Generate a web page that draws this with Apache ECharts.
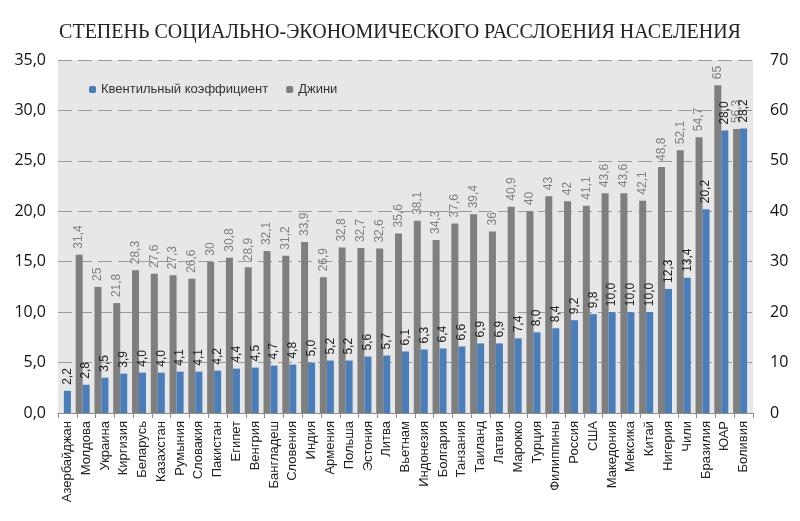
<!DOCTYPE html>
<html>
<head>
<meta charset="utf-8">
<script src="https://cdn.jsdelivr.net/npm/echarts@6/dist/echarts.min.js"></script>
<style>
html,body{margin:0;padding:0;background:#fff;}
#chart{width:800px;height:521px;}
</style>
</head>
<body>
<div id="chart"></div>
<script>
var titleText = 'СТЕПЕНЬ СОЦИАЛЬНО-ЭКОНОМИЧЕСКОГО РАССЛОЕНИЯ НАСЕЛЕНИЯ';
var categories = ['Азербайджан','Молдова','Украина','Киргизия','Беларусь','Казахстан','Румыния','Словакия','Пакистан','Египет','Венгрия','Бангладеш','Словения','Индия','Армения','Польша','Эстония','Литва','Вьетнам','Индонезия','Болгария','Танзания','Таиланд','Латвия','Марокко','Турция','Филиппины','Россия','США','Македония','Мексика','Китай','Нигерия','Чили','Бразилия','ЮАР','Боливия'];
var quintile = [2.2,2.8,3.5,3.9,4.0,4.0,4.1,4.1,4.2,4.4,4.5,4.7,4.8,5.0,5.2,5.2,5.6,5.7,6.1,6.3,6.4,6.6,6.9,6.9,7.4,8.0,8.4,9.2,9.8,10.0,10.0,10.0,12.3,13.4,20.2,28.0,28.2];
var gini = [null,31.4,25,21.8,28.3,27.6,27.3,26.6,30,30.8,28.9,32.1,31.2,33.9,26.9,32.8,32.7,32.6,35.6,38.1,34.3,37.6,39.4,36,40.9,40,43,42,41.1,43.6,43.6,42.1,48.8,52.1,54.7,65,56.3];
var leftTicks = {min:0, max:35, interval:5};
var rightTicks = {min:0, max:70, interval:10};
var seriesNames = ['Квентильный коэффициент','Джини'];

var chart = echarts.init(document.getElementById('chart'), null, {renderer:'canvas'});
var labelFont = 'Liberation Sans, Arial, sans-serif';
var option = {
  animation:false,
  title:{
    text:titleText, left:'center', top:18,
    textStyle:{fontFamily:'Liberation Serif, serif', fontSize:20, fontWeight:'normal', color:'#222'}
  },
  legend:{
    data:seriesNames, left:84, top:78, itemWidth:7, itemHeight:7, itemGap:18,
    textStyle:{fontFamily:labelFont, fontSize:13, color:'#333'}
  },
  grid:{left:58, right:47, top:60, bottom:108, show:true, backgroundColor:'#e7e7e7', borderWidth:0},
  xAxis:{
    type:'category', data:categories,
    axisLine:{lineStyle:{color:'#8c8c8c'}},
    axisTick:{show:true, alignWithLabel:false, lineStyle:{color:'#8c8c8c'}, length:5},
    axisLabel:{rotate:90, interval:0, fontFamily:labelFont, fontSize:13, color:'#222', margin:8}
  },
  yAxis:[{
    type:'value', min:leftTicks.min, max:leftTicks.max, interval:leftTicks.interval,
    axisLine:{show:false}, axisTick:{show:false},
    axisLabel:{fontFamily:'Open Sans, sans-serif', fontSize:16, color:'#111', margin:12,
      formatter:function(v){return v.toFixed(1).replace('.',',');}},
    splitLine:{show:true, lineStyle:{color:'#9a9a9a', type:[14,6], width:1}}
  },{
    type:'value', min:rightTicks.min, max:rightTicks.max, interval:rightTicks.interval,
    axisLine:{show:false}, axisTick:{show:false},
    axisLabel:{fontFamily:'Open Sans, sans-serif', fontSize:16, color:'#111', margin:17},
    splitLine:{show:false}
  }],
  series:[{
    name:seriesNames[1], type:'bar', yAxisIndex:1, data:gini, barWidth:7, barGap:'0%',
    itemStyle:{color:'#7f7f7f'},
    label:{show:true, position:'top', rotate:90, align:'left', verticalAlign:'middle', distance:6,
      fontFamily:labelFont, fontSize:12, color:'#808080',
      formatter:function(p){return p.value==null?'':String(p.value).replace('.',',');}}
  },{
    name:seriesNames[0], type:'bar', yAxisIndex:0, data:quintile, barWidth:7, barGap:'0%',
    itemStyle:{color:'#4a7ebb'},
    label:{show:true, position:'top', rotate:90, align:'left', verticalAlign:'middle', distance:6,
      fontFamily:labelFont, fontSize:12, color:'#222',
      formatter:function(p){return p.value.toFixed(1).replace('.',',');}}
  },{
    name:'', type:'bar', yAxisIndex:0, data:categories.map(function(){return null;}), barWidth:7, barGap:'0%',
    silent:true, legendHoverLink:false
  }]
};
chart.setOption(option);
</script>
</body>
</html>
